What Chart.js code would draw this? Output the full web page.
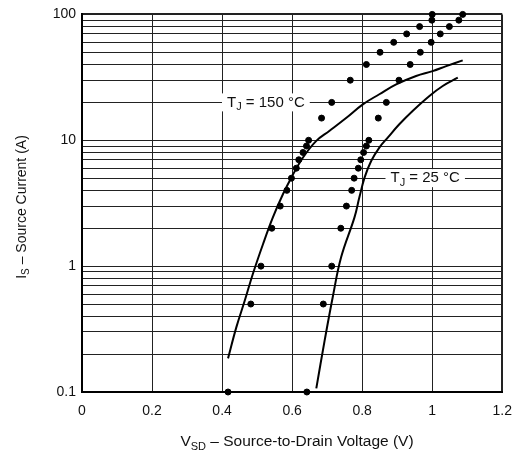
<!DOCTYPE html>
<html>
<head>
<meta charset="utf-8">
<script src="https://cdn.jsdelivr.net/npm/chart.js@4.4.1/dist/chart.umd.min.js"></script>
<style>
  html, body { margin: 0; padding: 0; background: #fff; }
  #wrap { width: 523px; height: 458px; }
</style>
</head>
<body>
<div id="wrap"><canvas id="diodeChart" width="523" height="458"></canvas></div>
<script>
// axis ticks
const voltageTicks = [0, 0.2, 0.4, 0.6, 0.8, 1, 1.2];
const currentLabels = [0.1, 1, 10, 100];
const currentGrid = [
  0.1, 0.2, 0.3, 0.4, 0.5, 0.6, 0.7, 0.8, 0.9,
  1, 2, 3, 4, 5, 6, 7, 8, 9,
  10, 20, 30, 40, 50, 60, 70, 80, 90, 100
];

// measured points (dots), same current steps for both sets
const dotCurrent = [0.1, 0.5, 1, 2, 3, 4, 5, 6, 7, 8, 9, 10, 15, 20, 30, 40, 50, 60, 70, 80, 90, 100];
const dotVoltageHot = [0.417, 0.482, 0.511, 0.542, 0.566, 0.585, 0.598, 0.612, 0.619, 0.631, 0.641, 0.647,
  0.684, 0.713, 0.766, 0.812, 0.851, 0.890, 0.927, 0.964, 0.999, 1.000];
const dotVoltageCold = [0.642, 0.689, 0.713, 0.739, 0.755, 0.770, 0.777, 0.789, 0.796, 0.804, 0.812, 0.819,
  0.846, 0.869, 0.905, 0.937, 0.966, 0.997, 1.023, 1.049, 1.076, 1.087];

// typical curves
const hotVoltage = [0.417, 0.441, 0.465, 0.488, 0.517, 0.545, 0.574, 0.598, 0.631, 0.669, 0.707, 0.755,
  0.802, 0.849, 0.897, 0.954, 1.001, 1.040, 1.087];
const hotCurrent = [0.185, 0.329, 0.535, 0.87, 1.50, 2.44, 3.74, 5.07, 7.29, 9.89, 11.9, 15.1,
  19.3, 23.2, 27.8, 32.4, 35.4, 38.8, 43.1];
const coldVoltage = [0.669, 0.693, 0.716, 0.740, 0.778, 0.792, 0.807, 0.826, 0.849, 0.873, 0.906, 0.944,
  0.992, 1.030, 1.073];
const coldCurrent = [0.107, 0.258, 0.569, 1.18, 2.44, 3.52, 5.07, 6.87, 8.75, 10.5, 13.4, 17.1,
  22.5, 27.0, 31.4];

// curve labels: [main, subscript, rest, voltage, current]
const curveLabels = [
  ['T', 'J', ' = 150 °C', 0.525, 20],
  ['T', 'J', ' = 25 °C', 0.98, 5]
];

const FONT = '"Liberation Sans", Arial, Helvetica, sans-serif';
const INK = '#111';

function pairs(xs, ys) {
  return xs.map((x, i) => ({ x: x, y: ys[i] }));
}

// text with one subscript part, returns total width
function subText(ctx, main, sub, rest, x, y, size, draw) {
  ctx.font = size + 'px ' + FONT;
  const w1 = ctx.measureText(main).width;
  const w3 = ctx.measureText(rest).width;
  ctx.font = Math.round(size * 0.72) + 'px ' + FONT;
  const w2 = ctx.measureText(sub).width;
  if (draw) {
    ctx.font = size + 'px ' + FONT;
    ctx.fillText(main, x, y);
    ctx.font = Math.round(size * 0.72) + 'px ' + FONT;
    ctx.fillText(sub, x + w1, y + size * 0.3);
    ctx.font = size + 'px ' + FONT;
    ctx.fillText(rest, x + w1 + w2, y);
  }
  return w1 + w2 + w3;
}

const annotations = {
  id: 'annotations',
  afterDatasetsDraw(chart) {
    const ctx = chart.ctx;
    const xs = chart.scales.x, ys = chart.scales.y;
    ctx.save();
    ctx.textBaseline = 'middle';
    ctx.textAlign = 'left';
    curveLabels.forEach(([m, s, r, v, i]) => {
      const cx = xs.getPixelForValue(v);
      const cy = ys.getPixelForValue(i);
      const w = subText(ctx, m, s, r, 0, 0, 15, false);
      ctx.fillStyle = '#fff';
      ctx.fillRect(cx - w / 2 - 5, cy - 9, w + 10, 18);
      ctx.fillStyle = INK;
      subText(ctx, m, s, r, cx - w / 2, cy, 15, true);
    });
    ctx.restore();
  },
  afterDraw(chart) {
    const ctx = chart.ctx;
    ctx.save();
    ctx.fillStyle = INK;
    ctx.textBaseline = 'middle';
    ctx.textAlign = 'left';
    // x axis title
    let w = subText(ctx, 'V', 'SD', ' – Source-to-Drain Voltage (V)', 0, 0, 15.5, false);
    subText(ctx, 'V', 'SD', ' – Source-to-Drain Voltage (V)', 297 - w / 2, 442, 15.5, true);
    // y axis title
    ctx.translate(22, 207);
    ctx.rotate(-Math.PI / 2);
    w = subText(ctx, 'I', 'S', ' – Source Current (A)', 0, 0, 14, false);
    subText(ctx, 'I', 'S', ' – Source Current (A)', -w / 2, 0, 14, true);
    ctx.restore();
  }
};

const ctx = document.getElementById('diodeChart');
new Chart(ctx, {
  type: 'scatter',
  data: {
    datasets: [
      {
        label: 'TJ = 150 °C',
        type: 'line',
        data: pairs(hotVoltage, hotCurrent),
        borderColor: '#000',
        borderWidth: 2,
        pointRadius: 0,
        tension: 0.4,
        fill: false
      },
      {
        label: 'TJ = 25 °C',
        type: 'line',
        data: pairs(coldVoltage, coldCurrent),
        borderColor: '#000',
        borderWidth: 2,
        pointRadius: 0,
        tension: 0.4,
        fill: false
      },
      {
        label: 'measured 150 °C',
        data: pairs(dotVoltageHot, dotCurrent),
        backgroundColor: '#000',
        borderColor: '#000',
        pointRadius: 3
      },
      {
        label: 'measured 25 °C',
        data: pairs(dotVoltageCold, dotCurrent),
        backgroundColor: '#000',
        borderColor: '#000',
        pointRadius: 3
      }
    ]
  },
  options: {
    responsive: false,
    animation: false,
    clip: false,
    layout: { padding: { top: 13, right: 20, left: 0, bottom: 0 } },
    plugins: {
      legend: { display: false },
      tooltip: { enabled: false }
    },
    scales: {
      x: {
        type: 'linear',
        min: 0,
        max: 1.2,
        afterBuildTicks: (scale) => { scale.ticks = voltageTicks.map(v => ({ value: v })); },
        afterFit: (scale) => { scale.height = 66; },
        ticks: {
          color: INK,
          font: { family: FONT, size: 14 },
          padding: 11,
          maxRotation: 0,
          callback: (v) => String(v)
        },
        grid: {
          color: '#222',
          lineWidth: (c) => (c.tick && c.tick.value === 1.2 ? 2 : 1),
          drawTicks: false
        },
        border: { display: true, color: '#000', width: 2 }
      },
      y: {
        type: 'logarithmic',
        min: 0.1,
        max: 100,
        afterBuildTicks: (scale) => { scale.ticks = currentGrid.map(v => ({ value: v })); },
        afterFit: (scale) => { scale.width = 82; },
        ticks: {
          color: INK,
          font: { family: FONT, size: 14 },
          padding: 6,
          autoSkip: false,
          callback: (v) => (currentLabels.includes(v) ? String(v) : '')
        },
        grid: {
          color: '#222',
          lineWidth: (c) => (c.tick && c.tick.value === 100 ? 2 : 1),
          drawTicks: false
        },
        border: { display: true, color: '#000', width: 2 }
      }
    }
  },
  plugins: [annotations]
});
</script>
</body>
</html>
